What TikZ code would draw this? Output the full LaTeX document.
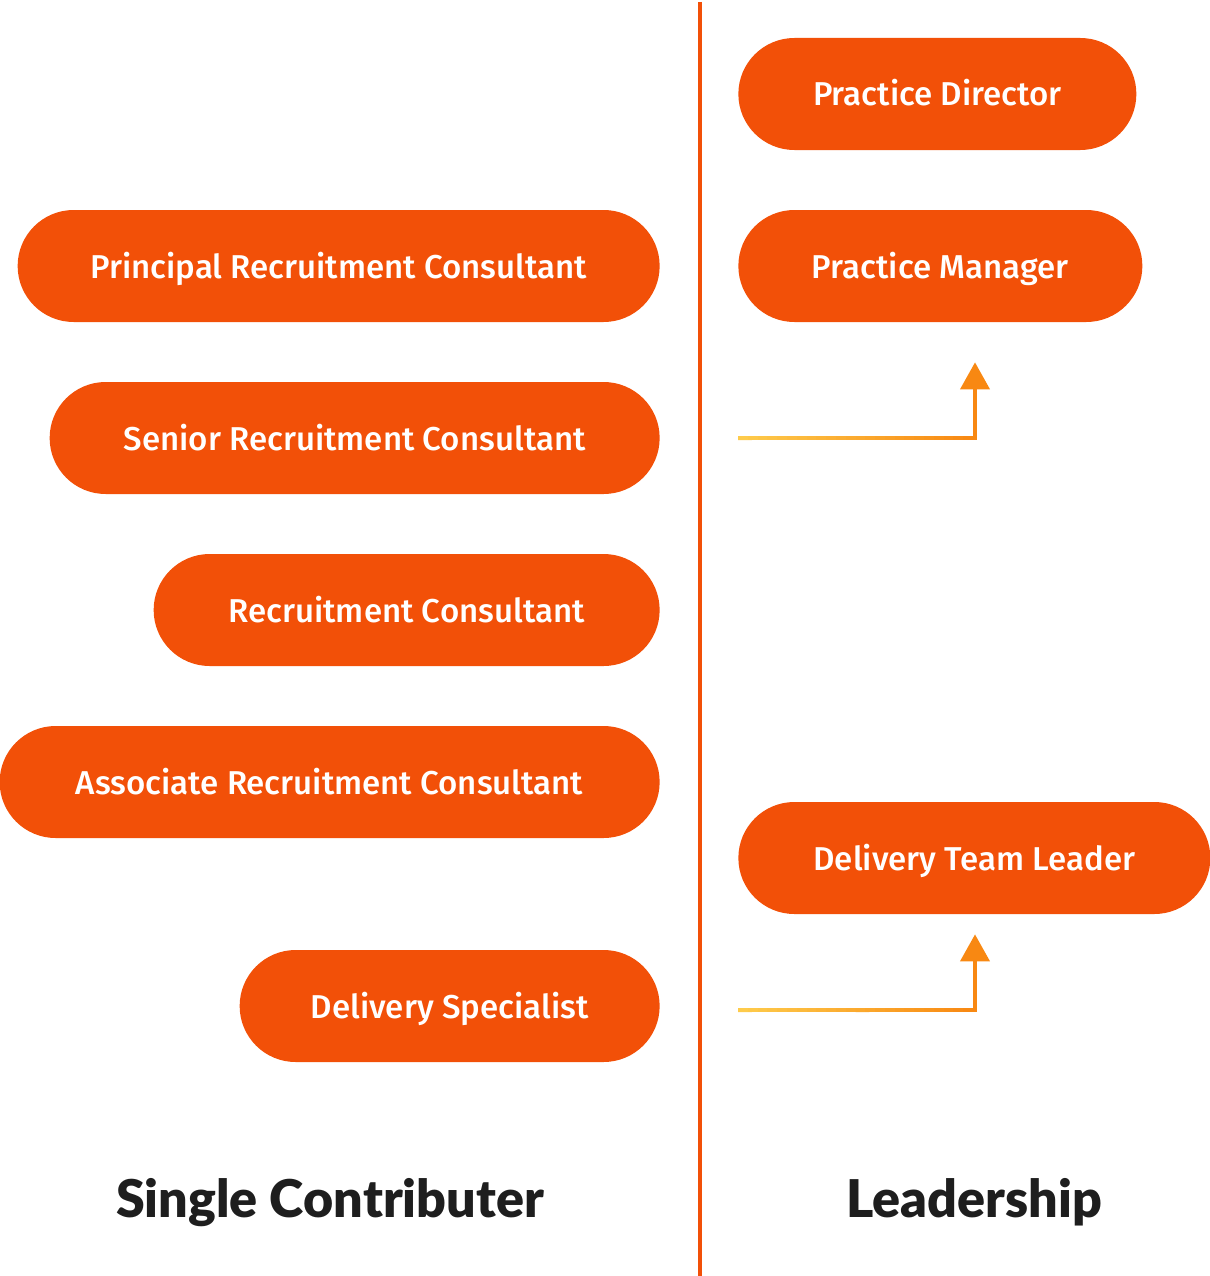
\documentclass[tikz,border=0pt]{standalone}
\usepackage{fontspec}
\usetikzlibrary{arrows.meta,calc}
\newfontfamily\pillfont{Fira Sans Medium}
\newfontfamily\headfont{Lato Black}
\definecolor{pillorange}{RGB}{242,80,8}
\definecolor{promoyellow}{RGB}{254,204,76}
\definecolor{promoorange}{RGB}{248,136,18}
\definecolor{headgray}{RGB}{30,30,30}
\begin{document}
\begin{tikzpicture}
\tikzstyle{pill} = [rectangle, rounded corners = 1.12cm, minimum height = 2.24cm, fill = pillorange, text = white, font = \pillfont\fontsize{18.8}{22}\selectfont, inner sep = 0pt, text height = 0.58cm, text depth = 0.1cm]
\tikzstyle{left pill} = [pill, anchor = east]
\tikzstyle{right pill} = [pill, anchor = west]
\tikzstyle{heading} = [anchor = base, text = headgray, font = \headfont\fontsize{29.6}{34}\selectfont]
\tikzstyle{promo line} = [line width = 0.08cm, line cap = rect]
\tikzstyle{promo arrow} = [line width = 0.08cm, promoorange, -{Triangle[length = 0.54cm, width = 0.58cm]}]
\useasboundingbox (0,0) rectangle (24.2,-25.52);
% divider
\draw[pillorange, line width = 0.08cm] (14,-0.04) -- (14,-25.52);
% single contributer track
\node[left pill, minimum width = 12.84cm](principal) at (13.2,-5.32){Principal Recruitment Consultant};
\node[left pill, minimum width = 12.20cm](senior) at (13.2,-8.76){Senior Recruitment Consultant};
\node[left pill, minimum width = 10.12cm](consultant) at (13.2,-12.20){Recruitment Consultant};
\node[left pill, minimum width = 13.20cm](associate) at (13.2,-15.64){Associate Recruitment Consultant};
\node[left pill, minimum width = 8.40cm](specialist) at (13.2,-20.12){Delivery Specialist};
% leadership track
\node[right pill, minimum width = 7.96cm](director) at (14.76,-1.88){Practice Director};
\node[right pill, minimum width = 8.08cm](manager) at (14.76,-5.32){Practice Manager};
\node[right pill, minimum width = 9.44cm](teamleader) at (14.76,-17.16){Delivery Team Leader};
\node[heading](single) at (6.6,-24.34){Single Contributer};
\node[heading](leadership) at (19.48,-24.34){Leadership};
% promotion arrows
\coordinate (start1) at (14.8,-8.76);
\coordinate (corner1) at (19.5,-8.76);
\coordinate (start2) at (14.8,-20.2);
\coordinate (corner2) at (19.5,-20.2);
\foreach \s/\c in {start1/corner1, start2/corner2}
  \foreach \i in {0,...,23}{
    \pgfmathsetmacro\mix{100-(\i+0.5)*100/24}
    \draw[promo line, color = promoyellow!\mix!promoorange] ($(\s)!\i/24!(\c)$) -- ($(\s)!\i/24+1/24!(\c)$);
  }
\draw[promo arrow, shorten >= 0.8cm] (corner1) -- (corner1 |- manager.south);
\draw[promo arrow, shorten >= 0.4cm] (corner2) -- (corner2 |- teamleader.south);
\end{tikzpicture}
\end{document}
